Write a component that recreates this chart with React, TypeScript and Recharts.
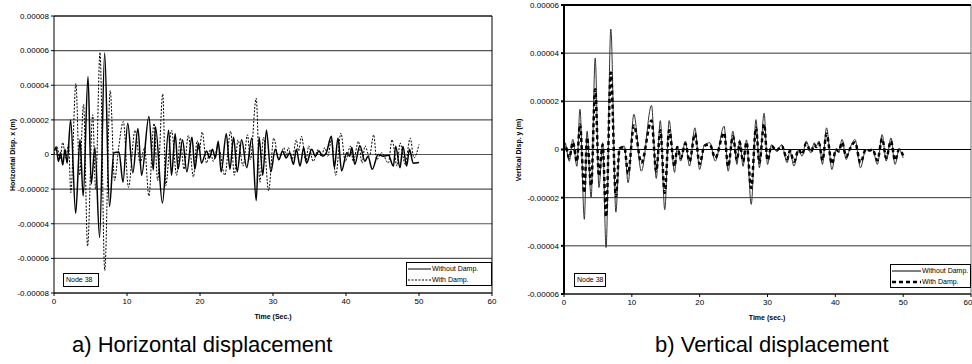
import { LineChart, Line, XAxis, YAxis, CartesianGrid, ReferenceLine } from 'recharts'

// displacement values are in micrometres (1e-6 m), time in seconds
// pairs are [time, value] read at the turning points of each trace

const timeTicks = [0, 10, 20, 30, 40, 50, 60]
const horizTicks = [-80, -60, -40, -20, 0, 20, 40, 60, 80]
const vertTicks = [-60, -40, -20, 0, 20, 40, 60]

const horizWithout: [number, number][] = [
  [0, 2], [0.3, 4], [0.6, -4], [0.9, 1], [1.2, -6], [1.5, 3], [1.8, -5], [2.28, 20], [2.97, -34],
  [3.56, 8.6], [4.0, -24], [4.66, 45], [5.1, -17], [5.6, 4], [6.25, -48], [6.94, 58.6], [7.6, -30],
  [8.2, 1], [8.9, 1.5], [9.45, -16], [10.1, 18], [10.8, -10.5], [11.5, 15], [12.0, -12], [13.0, 22],
  [13.6, -9], [13.9, 16], [14.85, -28], [15.7, 14], [16.1, -12], [16.6, 12], [17.0, -8.5], [17.6, 8.5],
  [18.2, -10], [18.9, 10], [19.3, -8.5], [19.8, 6.6], [20.2, -5], [20.9, 2], [21.3, -2], [21.7, 3],
  [22.1, -2], [22.5, 7.6], [22.9, -10], [23.6, 12], [24.1, -8.5], [24.6, 10], [25.1, -10], [25.7, 8.5],
  [26.4, -7.6], [27.1, 9.5], [27.7, -26.6], [28.1, 10], [28.6, -12], [29.1, 14], [29.7, -10], [30.3, 3],
  [30.8, -3], [31.3, 2], [31.8, -2], [32.3, 1], [32.8, -5.7], [33.2, 3], [33.7, -6.7], [34.2, 4],
  [34.6, -5], [35.3, 3], [35.8, -1], [36.3, 2], [36.8, -1], [37.3, 1], [38.0, 10.5], [38.4, -7.6],
  [38.9, 9.5], [39.4, -9.5], [40.1, 1], [40.5, -1], [40.8, 4], [41.2, -5.7], [41.9, 5], [42.6, -4],
  [43.0, -1], [43.6, -8.5], [44.4, 0], [45.1, -1], [45.8, -0.5], [46.5, -6.7], [46.8, 4.8], [47.4, -7.6],
  [47.8, 4.8], [48.3, -6.7], [48.7, 3], [49.2, -5], [50, -4.6],
]

const horizWith: [number, number][] = [
  [0, 0], [0.4, 5], [0.8, -3], [1.2, 7], [1.6, -2], [2.0, 6], [2.3, -22], [3.0, 41], [3.5, -12],
  [4.05, 29], [4.6, -53], [5.3, 23], [5.7, -20], [6.3, 59], [6.95, -67], [7.7, 37], [8.3, -15],
  [8.8, 2], [9.5, 19], [10.2, -19], [11.1, 14], [11.8, -5], [12.4, 4], [13.0, -24], [13.7, 18],
  [14.2, -15], [14.9, 35], [15.3, -18], [16.1, 14], [16.8, -12], [17.3, 9.5], [17.8, -8.5], [18.4, 11],
  [19.1, -13], [19.6, 8], [19.9, 2], [20.3, 13], [20.9, -5], [21.4, 3], [21.8, -4], [22.5, 5], [23.4, -12],
  [24.2, 13.5], [24.7, -12], [25.2, 8.5], [25.9, -6.7], [26.5, 11.4], [26.9, -3], [27.7, 32.5],
  [28.2, -16], [28.7, 10], [29.4, -21], [30.1, 9.5], [30.8, -3], [31.5, 4], [31.8, -1], [32.1, 4],
  [32.6, -3], [33.2, 8.5], [33.5, 2], [33.9, 10.5], [34.5, -4], [34.9, 5], [35.5, -4], [36.2, 3],
  [36.6, -1], [37.1, 4], [37.5, -1], [38.0, 8.5], [38.6, -12], [39.3, 12.4], [39.9, -4], [40.6, 4.8],
  [41.0, -4], [41.7, 7.6], [42.2, -5], [42.6, 5], [43.2, -1], [43.8, 11.4], [44.2, -3], [44.9, 1],
  [45.8, -5], [46.3, 8.5], [47.0, -6.7], [47.4, 6.7], [48.1, -5.7], [48.8, 9.5], [49.3, -2], [50, 5.8],
]

const vertWithout: [number, number][] = [
  [0, 1], [0.15, 2.8], [0.78, -4.9], [1.3, 4.2], [1.9, -7], [2.35, 16.7], [3.0, -29], [3.4, 7.6],
  [4.0, -20], [4.6, 38], [5.15, -15.8], [5.7, 2.8], [6.2, -40.7], [6.9, 50], [7.65, -26], [8.2, 0.7],
  [8.9, 1.4], [9.45, -13.8], [10.3, 14.6], [11.4, -9], [12.9, 18.3], [13.6, -12], [14.2, 12],
  [14.85, -25], [15.5, 12], [16.3, -9.5], [16.7, 1.4], [17.2, -4.8], [17.9, 3.5], [18.5, -6.9],
  [19.3, 9], [20.0, -8.3], [20.7, 2], [21.5, 2.8], [22.3, -4.8], [23.6, 9.7], [24.2, -9], [24.9, 7.6],
  [25.5, -6.2], [25.9, 4], [26.4, -7], [26.9, 4], [27.6, -22.8], [28.3, 12.4], [28.8, -7.6],
  [29.5, 15], [30.0, -6.2], [30.6, 2], [31.3, -0.7], [32.1, 2], [32.9, -5.5], [33.3, -0.5],
  [33.9, -6.9], [34.6, 0], [35.1, -2.8], [35.7, 3.5], [36.4, -1.4], [36.9, 2.8], [37.2, 1.5],
  [37.6, 3.5], [38.1, -6.2], [38.7, 9], [39.5, -8.3], [40.1, 0], [40.5, -1], [41.0, 4.2], [41.6, -4.2],
  [42.1, 0], [42.9, 4.2], [43.7, -7.6], [44.5, 0], [45.0, -0.5], [45.5, 0], [46.2, -6.2], [46.9, 6.2],
  [47.5, -4.8], [48.2, 4.8], [48.8, -6.2], [49.4, 0], [50, -3.5],
]

const vertWith: [number, number][] = [
  [0, 0.5], [0.15, 2], [0.78, -3.5], [1.3, 3], [1.9, -5], [2.35, 10.4], [3.0, -18], [3.4, 5],
  [4.0, -15], [4.6, 25], [5.15, -11], [5.7, 2], [6.2, -28], [6.9, 32], [7.65, -19.5], [8.2, 0.5],
  [8.9, 1], [9.45, -10], [10.3, 10], [11.4, -5.5], [12.9, 12], [13.6, -9], [14.2, 8], [14.85, -18],
  [15.5, 8], [16.3, -7], [16.7, 1], [17.2, -3.5], [17.9, 2.5], [18.5, -5], [19.3, 6.5], [20.0, -6],
  [20.7, 1.5], [21.5, 2], [22.3, -3.5], [23.6, 7], [24.2, -7], [24.9, 5.5], [25.5, -4.5], [25.9, 3],
  [26.4, -5], [26.9, 3], [27.6, -16], [28.3, 9], [28.8, -5.5], [29.5, 10.5], [30.0, -4.5], [30.6, 1.5],
  [31.3, -0.5], [32.1, 1.5], [32.9, -4], [33.3, -0.5], [33.9, -5], [34.6, 0], [35.1, -2], [35.7, 2.5],
  [36.4, -1], [36.9, 2], [37.2, 1], [37.6, 2.5], [38.1, -4.5], [38.7, 6.5], [39.5, -6], [40.1, 0],
  [40.5, -0.8], [41.0, 3], [41.6, -3], [42.1, 0], [42.9, 3], [43.7, -5.5], [44.5, 0], [45.0, -0.4],
  [45.5, 0], [46.2, -4.5], [46.9, 4.5], [47.5, -3.5], [48.2, 3.5], [48.8, -4.5], [49.4, 0], [50, -2.5],
]

const FONT = '"Liberation Sans", Arial, sans-serif'

const toRows = (pts: [number, number][]) => pts.map(([t, v]) => ({ t, v }))

// 20 -> "0.00002"
function fmtDisp(v: number): string {
  if (v === 0) return '0'
  return (v * 1e-6).toFixed(5)
}

const tickStyle = { fontSize: 8, fill: '#000', fontFamily: FONT }

function Caption({ left, top, text }: { left: number; top: number; text: string }) {
  return (
    <div style={{ position: 'absolute', left, top, fontFamily: FONT, fontSize: 22, lineHeight: '22px', whiteSpace: 'nowrap' }}>
      {text}
    </div>
  )
}

function Note({ left, top, width, text }: { left: number; top: number; width: number; text: string }) {
  return (
    <div
      style={{
        position: 'absolute', left, top, width, height: 14, boxSizing: 'border-box',
        border: '1px solid #000', background: '#fff', fontFamily: FONT, fontSize: 7,
        lineHeight: '12px', paddingLeft: 2, whiteSpace: 'nowrap',
      }}
    >
      {text}
    </div>
  )
}

function LegendBox({
  left, top, width, sampleW, secondDash, secondWidth,
}: { left: number; top: number; width: number; sampleW: number; secondDash: string; secondWidth: number }) {
  const row = (label: string, dash: string, sw: number, color: string) => (
    <div style={{ display: 'flex', alignItems: 'center', height: 11 }}>
      <svg width={sampleW} height={6} style={{ marginLeft: 1, marginRight: 1 }}>
        <line x1={0} y1={3} x2={sampleW} y2={3} stroke={color} strokeWidth={sw} strokeDasharray={dash} />
      </svg>
      <span>{label}</span>
    </div>
  )
  return (
    <div
      style={{
        position: 'absolute', left, top, width, height: 24, boxSizing: 'border-box',
        border: '1px solid #000', background: '#fff', fontFamily: FONT, fontSize: 7,
        lineHeight: '11px', whiteSpace: 'nowrap', overflow: 'hidden',
      }}
    >
      {row('Without Damp.', '', 1, '#000')}
      {row('With Damp.', secondDash, secondWidth, '#000')}
    </div>
  )
}

function AxisTitle({ x, y, text, rotate }: { x: number; y: number; text: string; rotate?: boolean }) {
  return (
    <div
      style={{
        position: 'absolute', left: x, top: y, fontFamily: FONT, fontSize: 7, fontWeight: 'bold',
        whiteSpace: 'nowrap', transform: `translate(-50%, -50%)${rotate ? ' rotate(-90deg)' : ''}`,
      }}
    >
      {text}
    </div>
  )
}

export default function App() {
  return (
    <div style={{ position: 'absolute', left: 0, top: 0, width: 972, height: 364, background: '#fff', overflow: 'hidden' }}>
      {/* a) horizontal */}
      <div style={{ position: 'absolute', left: 0, top: 0 }}>
        <LineChart width={500} height={330} margin={{ top: 16, right: 8, bottom: 17, left: 8 }}>
          <CartesianGrid vertical={false} stroke="#555" strokeWidth={1.2} />
          <XAxis
            type="number" dataKey="t" domain={[0, 60]} ticks={timeTicks} allowDataOverflow
            tick={tickStyle} tickSize={3} height={20} stroke="#000"
          />
          <YAxis
            type="number" domain={[-80, 80]} ticks={horizTicks} tickFormatter={fmtDisp}
            tick={tickStyle} tickSize={3} width={46} stroke="#000"
          />
          <ReferenceLine x={60} stroke="#000" />
          <ReferenceLine y={80} stroke="#000" />
          <Line data={toRows(horizWithout)} dataKey="v" type="monotone" stroke="#000" strokeWidth={1.5} dot={false} isAnimationActive={false} />
          <Line data={toRows(horizWith)} dataKey="v" type="monotone" stroke="#000" strokeWidth={1} strokeDasharray="2 1.5" dot={false} isAnimationActive={false} />
        </LineChart>
      </div>
      <AxisTitle x={12} y={155} text="Horizontal Disp. x (m)" rotate />
      <AxisTitle x={273} y={316} text="Time (Sec.)" />
      <Note left={63} top={273} width={36} text="Node 38" />
      <LegendBox left={406} top={262} width={86} sampleW={23} secondDash="2 1.5" secondWidth={1} />
      <Caption left={72} top={334} text="a) Horizontal displacement" />

      {/* b) vertical */}
      <div style={{ position: 'absolute', left: 480, top: 0 }}>
        <LineChart width={492} height={330} margin={{ top: 5, right: 1, bottom: 16, left: 38 }}>
          <CartesianGrid vertical={false} stroke="#333" />
          <XAxis
            type="number" dataKey="t" domain={[0, 60]} ticks={timeTicks} allowDataOverflow
            tick={tickStyle} tickSize={3} height={20} stroke="#000"
          />
          <YAxis
            type="number" domain={[-60, 60]} ticks={vertTicks} tickFormatter={fmtDisp}
            tick={tickStyle} tickSize={3} width={46} stroke="#000" strokeWidth={2}
          />
          <ReferenceLine x={60} stroke="#666" />
          <ReferenceLine y={60} stroke="#000" strokeWidth={2} />
          <ReferenceLine y={0} stroke="#000" />
          <Line data={toRows(vertWithout)} dataKey="v" type="monotone" stroke="#333" strokeWidth={1} dot={false} isAnimationActive={false} />
          <Line data={toRows(vertWith)} dataKey="v" type="monotone" stroke="#000" strokeWidth={2.5} strokeDasharray="4 3" dot={false} isAnimationActive={false} />
        </LineChart>
      </div>
      <AxisTitle x={518} y={150} text="Vertical Disp. y (m)" rotate />
      <AxisTitle x={767} y={317} text="Time (sec.)" />
      <Note left={574} top={273} width={32} text="Node 38" />
      <LegendBox left={890} top={264} width={81} sampleW={29} secondDash="4 3" secondWidth={2.5} />
      <Caption left={655} top={334} text="b) Vertical displacement" />
    </div>
  )
}
